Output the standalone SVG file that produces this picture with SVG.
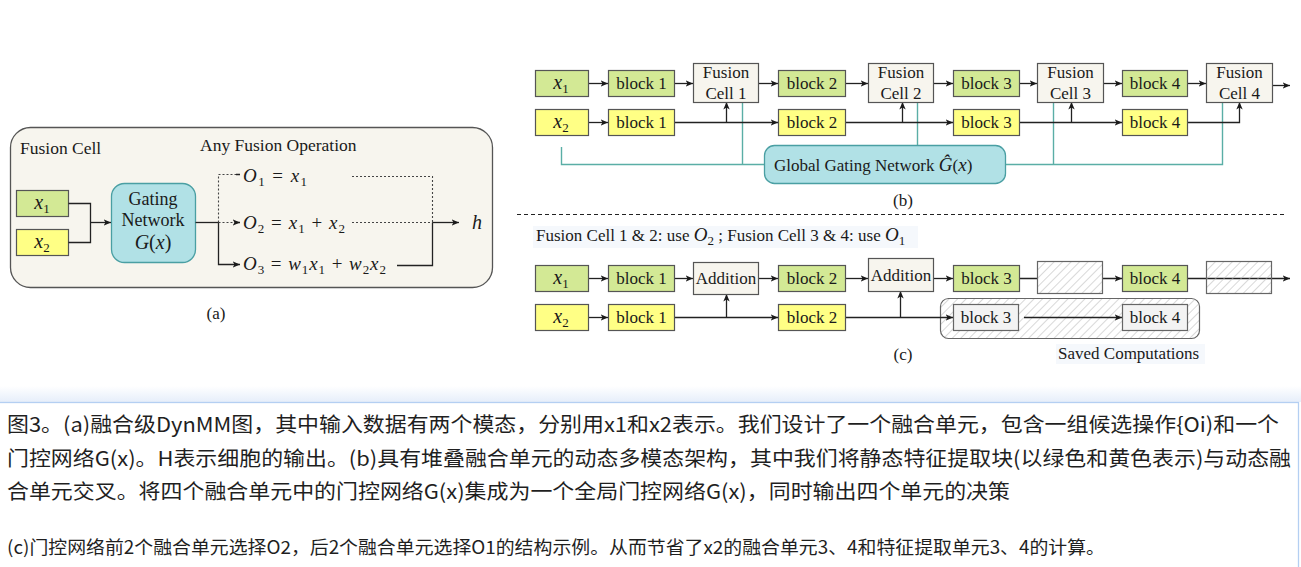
<svg xmlns="http://www.w3.org/2000/svg" width="1301" height="567" viewBox="0 0 1301 567">
<style>
.t{font-family:"Liberation Serif","DejaVu Serif",serif;font-size:17px;fill:#1a1a1a}
.m{font-family:"Liberation Serif","DejaVu Serif",serif;font-style:italic;font-size:19px;fill:#1a1a1a}
.sub{font-size:13px;font-style:normal}
.cap{font-family:"Noto Sans CJK SC","Noto Sans",sans-serif;fill:#1f1f1f}
.green{fill:#d3e995;stroke:#555;stroke-width:1.2}
.yellow{fill:#ffff85;stroke:#555;stroke-width:1.2}
.cell{fill:#f7f5ee;stroke:#555;stroke-width:1.2}
.gray{fill:#f3f3f3;stroke:#666;stroke-width:1.2}
.gate{fill:#b1e1e6;stroke:#4a9fa3;stroke-width:1.3}
.ln{fill:none;stroke:#222;stroke-width:1.3}
.lna{fill:none;stroke:#222;stroke-width:1.3;marker-end:url(#ah)}
.dot{fill:none;stroke:#444;stroke-width:1.1;stroke-dasharray:2 2}
.teal{fill:none;stroke:#5aaea6;stroke-width:1.4}
.hatch{fill:url(#hp);stroke:#666;stroke-width:1.2}
</style>
<defs>
<marker id="ah" markerWidth="9" markerHeight="8" refX="7.5" refY="4" orient="auto" markerUnits="userSpaceOnUse">
<path d="M0,0.8 L7.5,4 L0,7.2 L2,4 z" fill="#1a1a1a"/>
</marker>
<pattern id="hp" width="6" height="6" patternUnits="userSpaceOnUse" patternTransform="rotate(45)">
<rect width="6" height="6" fill="#ffffff"/>
<line x1="0" y1="0" x2="0" y2="6" stroke="#b8b8b8" stroke-width="1.1"/>
</pattern>
<pattern id="hp2" width="6" height="6" patternUnits="userSpaceOnUse" patternTransform="rotate(45)">
<line x1="0" y1="0" x2="0" y2="6" stroke="#b8b8b8" stroke-width="1.1"/>
</pattern>
<linearGradient id="band" x1="0" y1="0" x2="0" y2="1">
<stop offset="0" stop-color="#ffffff"/>
<stop offset="1" stop-color="#e6eefa"/>
</linearGradient>
</defs>
<rect width="1301" height="567" fill="#ffffff"/>

<!-- ========== Panel (a) ========== -->
<g id="panel-a">
<rect x="10.5" y="127.5" width="482" height="160" rx="20" fill="#f7f5ee" stroke="#555" stroke-width="1.3"/>
<text class="t" x="20" y="154" style="font-size:17.5px">Fusion Cell</text>
<text class="t" x="200" y="151" style="font-size:17.5px">Any Fusion Operation</text>
<text class="t" x="216" y="319" text-anchor="middle">(a)</text>
</g>
<g id="a-x1"><rect class="green" x="16.5" y="190.5" width="52" height="26"/><text class="m" x="42" y="209" text-anchor="middle" style="font-size:20px">x<tspan class="sub" dy="4">1</tspan></text></g>
<g id="a-x2"><rect class="yellow" x="16.5" y="229.5" width="52" height="26"/><text class="m" x="42" y="248" text-anchor="middle" style="font-size:20px">x<tspan class="sub" dy="4">2</tspan></text></g>
<g id="a-gating"><rect class="gate" x="111.5" y="183.5" width="84" height="79" rx="13"/>
<text class="t" x="153" y="205" text-anchor="middle" style="font-size:18px">Gating</text>
<text class="t" x="153" y="226" text-anchor="middle" style="font-size:18px">Network</text>
<text class="m" x="153" y="249" text-anchor="middle" style="font-size:20px">G<tspan font-style="normal">(</tspan>x<tspan font-style="normal">)</tspan></text></g>
<g id="a-o1"><text class="m" x="243" y="182" textLength="64" lengthAdjust="spacing">O<tspan class="sub" dy="4">1</tspan><tspan font-style="normal" dy="-4"> = </tspan>x<tspan class="sub" dy="4">1</tspan></text></g>
<g id="a-o2"><text class="m" x="243" y="229" textLength="102" lengthAdjust="spacing">O<tspan class="sub" dy="4">2</tspan><tspan font-style="normal" dy="-4"> = </tspan>x<tspan class="sub" dy="4">1</tspan><tspan font-style="normal" dy="-4"> + </tspan>x<tspan class="sub" dy="4">2</tspan></text></g>
<g id="a-o3"><text class="m" x="243" y="270" textLength="143" lengthAdjust="spacing">O<tspan class="sub" dy="4">3</tspan><tspan font-style="normal" dy="-4"> = </tspan>w<tspan class="sub" dy="4">1</tspan><tspan dy="-4">x</tspan><tspan class="sub" dy="4">1</tspan><tspan font-style="normal" dy="-4"> + </tspan>w<tspan class="sub" dy="4">2</tspan><tspan dy="-4">x</tspan><tspan class="sub" dy="4">2</tspan></text></g>
<g id="a-h"><text class="m" x="472" y="229" style="font-size:20px">h</text></g>
<g id="a-connectors">
<path class="ln" d="M68.5,203.5 H90.5 V242.5 H68.5"/>
<path class="lna" d="M90.5,222.5 H111"/>
<path class="ln" d="M195.5,222.5 H218.5"/>
<path class="dot" d="M218.5,222.5 V174.5 H236"/>
<path class="dot" d="M218.5,222.5 H236"/>
<path d="M236,174.5 H240 M236,222.5 H240" class="ln" marker-end="url(#ah)"/>
<path class="lna" d="M218.5,222.5 V264.5 H240"/>
<path class="dot" d="M352,176.5 H432.5 V222.5"/>
<path class="dot" d="M352,222.5 H432.5"/>
<path class="ln" d="M397,265.5 H432.5 V222.5"/>
<path class="lna" d="M432.5,222.5 H459"/>
</g>

<!-- ========== Panel (b) ========== -->
<g id="b-teal">
<path class="teal" d="M561.5,147 V164.5 H765"/>
<path class="teal" d="M742.5,102 V164.5"/>
<path class="teal" d="M917.5,102 V145"/>
<path class="teal" d="M1006,164.5 H1222.5 V102"/>
<path class="teal" d="M1053.5,102 V164.5"/>
</g>
<g id="b-connectors">
<path class="lna" d="M588,83.5 H608"/>
<path class="lna" d="M674,83.5 H693"/>
<path class="lna" d="M758,83.5 H778"/>
<path class="lna" d="M845,83.5 H868"/>
<path class="lna" d="M933,83.5 H953"/>
<path class="lna" d="M1019,83.5 H1037"/>
<path class="lna" d="M1103,83.5 H1122"/>
<path class="lna" d="M1187,83.5 H1206"/>
<path class="lna" d="M1272,85.5 H1290"/>
<path class="lna" d="M588,122.5 H608"/>
<path class="lna" d="M674,122.5 H778"/>
<path class="lna" d="M726.5,122.5 V102"/>
<path class="lna" d="M845,122.5 H953"/>
<path class="lna" d="M902.5,122.5 V102"/>
<path class="lna" d="M1019,122.5 H1122"/>
<path class="lna" d="M1071.5,122.5 V102"/>
<path class="lna" d="M1187,122.5 H1239.5 V102"/>
</g>
<g id="b-x1"><rect class="green" x="535.5" y="70.5" width="53" height="26"/><text class="m" x="561" y="89" text-anchor="middle" style="font-size:20px">x<tspan class="sub" dy="4">1</tspan></text></g>
<g id="b-x2"><rect class="yellow" x="535.5" y="109.5" width="53" height="26"/><text class="m" x="561" y="128" text-anchor="middle" style="font-size:20px">x<tspan class="sub" dy="4">2</tspan></text></g>
<g id="b-block1-g"><rect class="green" x="608.5" y="70.5" width="66" height="26"/><text class="t" x="641.5" y="89" text-anchor="middle">block 1</text></g>
<g id="b-block1-y"><rect class="yellow" x="608.5" y="109.5" width="66" height="26"/><text class="t" x="641.5" y="128" text-anchor="middle">block 1</text></g>
<g id="b-fc1"><rect class="cell" x="693.5" y="63.5" width="65" height="39"/><text class="t" x="726" y="78" text-anchor="middle">Fusion</text><text class="t" x="726" y="99" text-anchor="middle">Cell 1</text></g>
<g id="b-block2-g"><rect class="green" x="778.5" y="70.5" width="67" height="26"/><text class="t" x="812" y="89" text-anchor="middle">block 2</text></g>
<g id="b-block2-y"><rect class="yellow" x="778.5" y="109.5" width="67" height="26"/><text class="t" x="812" y="128" text-anchor="middle">block 2</text></g>
<g id="b-fc2"><rect class="cell" x="868.5" y="63.5" width="65" height="39"/><text class="t" x="901" y="78" text-anchor="middle">Fusion</text><text class="t" x="901" y="99" text-anchor="middle">Cell 2</text></g>
<g id="b-block3-g"><rect class="green" x="953.5" y="70.5" width="66" height="26"/><text class="t" x="986.5" y="89" text-anchor="middle">block 3</text></g>
<g id="b-block3-y"><rect class="yellow" x="953.5" y="109.5" width="66" height="26"/><text class="t" x="986.5" y="128" text-anchor="middle">block 3</text></g>
<g id="b-fc3"><rect class="cell" x="1037.5" y="63.5" width="66" height="39"/><text class="t" x="1070.5" y="78" text-anchor="middle">Fusion</text><text class="t" x="1070.5" y="99" text-anchor="middle">Cell 3</text></g>
<g id="b-block4-g"><rect class="green" x="1122.5" y="70.5" width="65" height="26"/><text class="t" x="1155" y="89" text-anchor="middle">block 4</text></g>
<g id="b-block4-y"><rect class="yellow" x="1122.5" y="109.5" width="65" height="26"/><text class="t" x="1155" y="128" text-anchor="middle">block 4</text></g>
<g id="b-fc4"><rect class="cell" x="1206.5" y="63.5" width="66" height="39"/><text class="t" x="1239.5" y="78" text-anchor="middle">Fusion</text><text class="t" x="1239.5" y="99" text-anchor="middle">Cell 4</text></g>
<g id="b-global"><rect class="gate" x="764.5" y="145.5" width="241" height="38" rx="10"/><text class="t" x="774" y="171">Global Gating Network <tspan class="m">Ĝ</tspan><tspan>(</tspan><tspan class="m">x</tspan><tspan>)</tspan></text></g>
<text class="t" x="903" y="206" text-anchor="middle">(b)</text>
<line x1="517" y1="214.5" x2="1284" y2="214.5" stroke="#222" stroke-width="1.2" stroke-dasharray="4 3"/>

<!-- ========== Panel (c) ========== -->
<rect x="533" y="226" width="385" height="22" fill="#f5f8fc"/>
<text class="t" x="536" y="241">Fusion Cell 1 &amp; 2: use <tspan class="m">O</tspan><tspan class="sub" dy="4">2</tspan><tspan dy="-4"> ; Fusion Cell 3 &amp; 4: use </tspan><tspan class="m">O</tspan><tspan class="sub" dy="4">1</tspan></text>
<g id="c-saved"><rect class="hatch" x="940.5" y="298.5" width="259" height="40" rx="8"/></g>
<g id="c-connectors">
<path class="lna" d="M588,278.5 H608"/>
<path class="lna" d="M674,278.5 H693"/>
<path class="lna" d="M758,278.5 H778"/>
<path class="lna" d="M845,278.5 H868"/>
<path class="lna" d="M933,278.5 H953"/>
<path class="lna" d="M1019,278.5 H1122"/>
<path class="lna" d="M1187,278.5 H1290"/>
<path class="lna" d="M588,317.5 H608"/>
<path class="lna" d="M674,317.5 H778"/>
<path class="lna" d="M726.5,317.5 V294"/>
<path class="lna" d="M845,317.5 H953"/>
<path class="lna" d="M900.5,317.5 V291"/>
<path class="lna" d="M1024,317.5 H1122"/>
</g>
<g id="c-x1"><rect class="green" x="535.5" y="265.5" width="53" height="26"/><text class="m" x="561" y="284" text-anchor="middle" style="font-size:20px">x<tspan class="sub" dy="4">1</tspan></text></g>
<g id="c-x2"><rect class="yellow" x="535.5" y="304.5" width="53" height="26"/><text class="m" x="561" y="323" text-anchor="middle" style="font-size:20px">x<tspan class="sub" dy="4">2</tspan></text></g>
<g id="c-block1-g"><rect class="green" x="608.5" y="265.5" width="66" height="26"/><text class="t" x="641.5" y="284" text-anchor="middle">block 1</text></g>
<g id="c-block1-y"><rect class="yellow" x="608.5" y="304.5" width="66" height="26"/><text class="t" x="641.5" y="323" text-anchor="middle">block 1</text></g>
<g id="c-add1"><rect class="cell" x="693.5" y="262.5" width="65" height="32"/><text class="t" x="726" y="284" text-anchor="middle">Addition</text></g>
<g id="c-block2-g"><rect class="green" x="778.5" y="265.5" width="67" height="26"/><text class="t" x="812" y="284" text-anchor="middle">block 2</text></g>
<g id="c-block2-y"><rect class="yellow" x="778.5" y="304.5" width="67" height="26"/><text class="t" x="812" y="323" text-anchor="middle">block 2</text></g>
<g id="c-add2"><rect class="cell" x="868.5" y="258.5" width="65" height="33"/><text class="t" x="901" y="281" text-anchor="middle">Addition</text></g>
<g id="c-block3-g"><rect class="green" x="953.5" y="265.5" width="66" height="26"/><text class="t" x="986.5" y="284" text-anchor="middle">block 3</text></g>
<g id="c-skip1"><rect class="hatch" x="1037.5" y="261.5" width="65" height="32"/></g>
<g id="c-block4-g"><rect class="green" x="1122.5" y="265.5" width="65" height="26"/><text class="t" x="1155" y="284" text-anchor="middle">block 4</text></g>
<g id="c-skip2"><rect x="1206.5" y="261.5" width="65" height="32" fill="url(#hp2)" stroke="#666" stroke-width="1.2"/></g>
<g id="c-block3-s"><rect class="gray" x="953.5" y="304.5" width="65" height="26"/><text class="t" x="986" y="323" text-anchor="middle" fill="#333">block 3</text></g>
<g id="c-block4-s"><rect class="gray" x="1122.5" y="304.5" width="65" height="26"/><text class="t" x="1155" y="323" text-anchor="middle">block 4</text></g>
<text class="t" x="903" y="360" text-anchor="middle">(c)</text>
<rect x="1056" y="344" width="149" height="20" fill="#f5f8fc"/>
<text class="t" x="1058" y="359">Saved Computations</text>

<!-- ========== Caption ========== -->
<g id="caption">
<rect x="0" y="386" width="1301" height="16" fill="url(#band)"/>
<rect x="-2" y="402.5" width="1300.5" height="170" fill="#ffffff" stroke="#b4cff2" stroke-width="1.3"/>
<text class="cap" x="7" y="432" font-size="20.5" textLength="1272" lengthAdjust="spacingAndGlyphs">图3。(a)融合级DynMM图，其中输入数据有两个模态，分别用x1和x2表示。我们设计了一个融合单元，包含一组候选操作{Oi)和一个</text>
<text class="cap" x="7" y="466" font-size="20.5" textLength="1284" lengthAdjust="spacingAndGlyphs">门控网络G(x)。H表示细胞的输出。(b)具有堆叠融合单元的动态多模态架构，其中我们将静态特征提取块(以绿色和黄色表示)与动态融</text>
<text class="cap" x="7" y="499" font-size="20.5" textLength="1003" lengthAdjust="spacingAndGlyphs">合单元交叉。将四个融合单元中的门控网络G(x)集成为一个全局门控网络G(x)，同时输出四个单元的决策</text>
<text class="cap" x="7" y="554" font-size="18" textLength="1098" lengthAdjust="spacingAndGlyphs">(c)门控网络前2个融合单元选择O2，后2个融合单元选择O1的结构示例。从而节省了x2的融合单元3、4和特征提取单元3、4的计算。</text>
</g>
</svg>
